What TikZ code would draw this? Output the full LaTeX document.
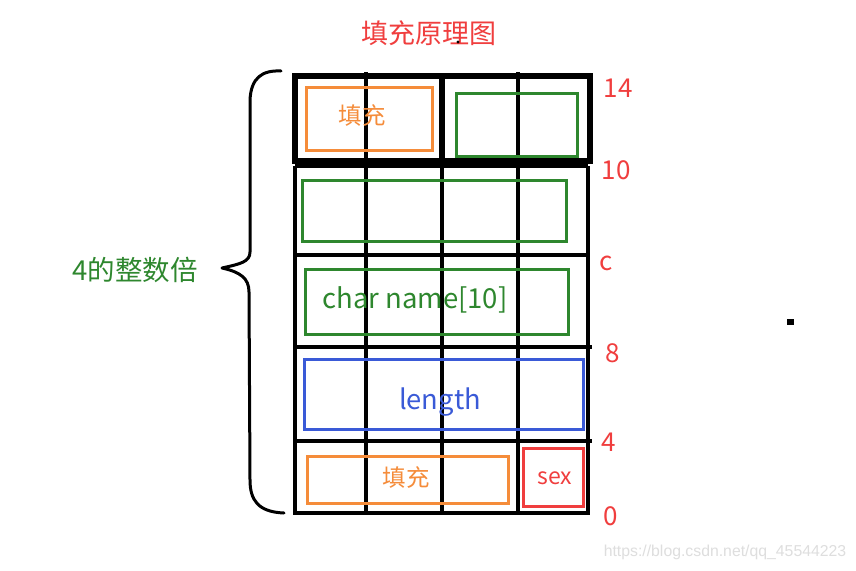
\documentclass[tikz,border=0pt]{standalone}
\usepackage{fontspec}
\setmainfont{Noto Sans CJK SC}
\newfontfamily\wmfont{Liberation Sans}
\definecolor{myorange}{RGB}{245,140,58}
\definecolor{mygreen}{RGB}{46,135,46}
\definecolor{myblue}{RGB}{58,90,215}
\definecolor{myred}{RGB}{240,62,62}
\definecolor{mygray}{RGB}{222,222,222}
\tikzset{
  gridline/.style={line width=4.6pt, black},
  topline/.style={line width=6pt, black},
  obox/.style={line width=3pt, myorange},
  gbox/.style={line width=3pt, mygreen},
  bbox/.style={line width=3pt, myblue},
  rbox/.style={line width=3pt, myred},
  lbl/.style={inner sep=0pt, anchor=center},
  numlbl/.style={lbl, text=myred, font=\fontsize{26}{30}\selectfont},
}
\begin{document}
\begin{tikzpicture}[x=1pt,y=-1pt]
\useasboundingbox[fill=white] (0,0) rectangle (856,570);
% title
\node[lbl, text=myred, font=\fontsize{27}{32}\selectfont] (title) at (429,33) {填充原理图};
% top section
\draw[topline] (295,76) rectangle (590,161);
\draw[topline] (442,76) -- (442,161);
% lower rows
\draw[gridline] (295,166) -- (588,166);
\draw[gridline] (295,166) -- (295,513) -- (588,513) -- (588,166);
\draw[gridline] (295,255) -- (588,255);
\draw[gridline] (295,347) -- (592,347);
\draw[gridline] (295,441) -- (592,441);
\draw[gridline] (366,72) -- (366,513);
\draw[gridline] (442,161) -- (442,513);
\draw[gridline] (518,72) -- (518,513);
% coloured boxes
\draw[obox] (306,87) rectangle (432,150);
\node[lbl, text=myorange, font=\fontsize{23.5}{28}\selectfont] (fill1) at (362,116) {填充};
\draw[gbox] (456,93) rectangle (577,156);
\draw[gbox] (302,180) rectangle (566,241);
\draw[gbox] (305,269) rectangle (568,334);
\node[lbl, text=mygreen, font=\fontsize{27.5}{32}\selectfont] (name) at (415,300) {char name[10]};
\draw[bbox] (304,359) rectangle (583,429);
\node[lbl, text=myblue, font=\fontsize{27.3}{32}\selectfont] (len) at (440,402) {length};
\draw[obox] (307,456) rectangle (508,503);
\node[lbl, text=myorange, font=\fontsize{23.5}{28}\selectfont] (fill2) at (406,478) {填充};
\draw[rbox] (523,448) rectangle (583,506);
\node[lbl, text=myred, font=\fontsize{23}{28}\selectfont] (sex) at (555,478) {sex};
% offsets
\node[numlbl] (n14) at (618,88) {14};
\node[numlbl] (n10) at (616,170) {10};
\node[numlbl] (nc) at (606,263) {c};
\node[numlbl] (n8) at (613,353) {8};
\node[numlbl] (n4) at (609,442) {4};
\node[numlbl] (n0) at (611,516) {0};
% brace
\draw[line width=3pt, line cap=round, line join=round] (281,71) .. controls (262,70) and (251,78) .. (250,100)
  -- (250,252) .. controls (250,262) and (240,264) .. (222,268)
  .. controls (240,272) and (249,278) .. (249,292)
  -- (250,480) .. controls (250,500) and (258,512) .. (284,513);
\node[lbl, text=mygreen, font=\fontsize{27.5}{32}\selectfont] (mult) at (135,270) {4的整数倍};
% stray dots
\fill (458,42) circle (1.6pt);
\fill (787,319) rectangle (794,325);
% watermark
\node[lbl, text=mygray, font=\wmfont\fontsize{15.8}{19}\selectfont] (wm) at (725,552) {https://blog.csdn.net/qq\_45544223};
\end{tikzpicture}
\end{document}
